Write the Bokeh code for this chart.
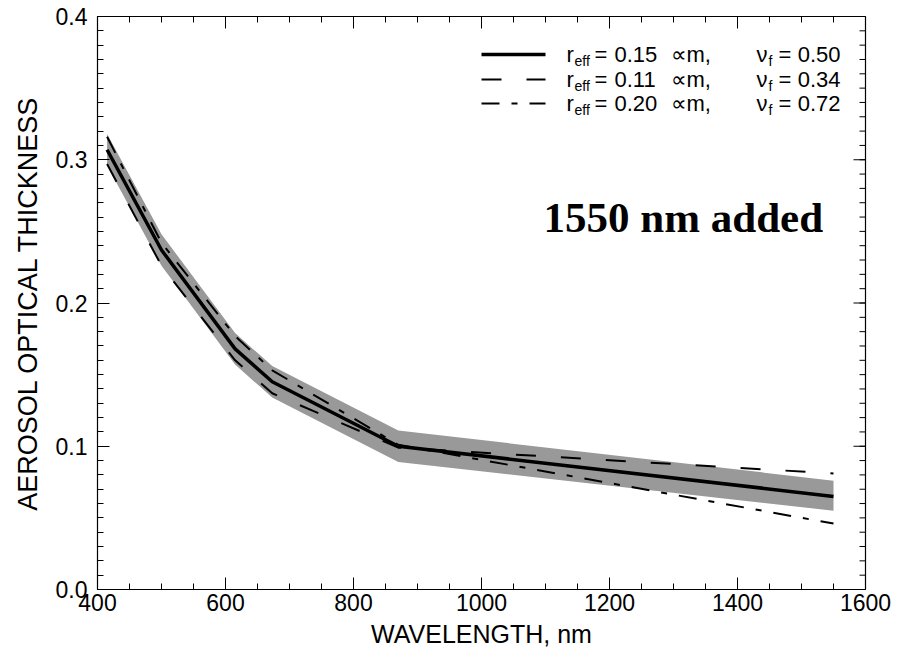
import math
from bokeh.plotting import figure
from bokeh.models import FixedTicker, PrintfTickFormatter, Label, Range1d
from bokeh.embed import file_html
from bokeh.resources import INLINE

# ---- data ----
wavelength = [415, 500, 615, 673, 870, 1550]
aot_r015 = [0.307, 0.237, 0.168, 0.145, 0.100, 0.065]   # solid
aot_r011 = [0.297, 0.226, 0.160, 0.137, 0.099, 0.081]   # long dash
aot_r020 = [0.316, 0.242, 0.177, 0.153, 0.101, 0.046]   # dash-dot
band_low = [0.296, 0.226, 0.157, 0.134, 0.089, 0.055]
band_high = [0.318, 0.248, 0.179, 0.156, 0.111, 0.076]

x_major = [400, 600, 800, 1000, 1200, 1400, 1600]
x_minor = list(range(400, 1601, 50))
y_major = [0.0, 0.1, 0.2, 0.3, 0.4]
y_minor = [round(i * 0.01, 2) for i in range(0, 41)]

leg_reff = ["0.15", "0.11", "0.20"]
leg_nuf = ["0.50", "0.34", "0.72"]
leg_dash = ["solid", "20 25", "18 12 6 12"]
leg_width = [3.5, 2, 2]

FONT = "Liberation Sans"
X0, X1, Y0, Y1 = 400, 1600, 0.0, 0.4

p = figure(width=898, height=651,
           x_range=Range1d(X0, X1), y_range=Range1d(Y0, Y1),
           output_backend="svg", toolbar_location=None,
           min_border_left=97, min_border_right=33, min_border_top=16, min_border_bottom=62)
p.grid.visible = False
p.outline_line_color = "black"
p.outline_line_width = 1.2
p.background_fill_color = "white"

def style_axis(ax, ticks, minor):
    ax.ticker = FixedTicker(ticks=ticks, minor_ticks=minor)
    ax.major_tick_in = 12
    ax.major_tick_out = 0
    ax.minor_tick_in = 6
    ax.minor_tick_out = 0
    ax.axis_line_color = "black"
    ax.major_tick_line_color = "black"
    ax.minor_tick_line_color = "black"
    ax.major_label_text_font = FONT
    ax.major_label_text_font_size = "23px"
    ax.major_label_text_color = "black"
    ax.axis_label_text_font = FONT
    ax.axis_label_text_font_style = "normal"
    ax.axis_label_text_color = "black"

style_axis(p.xaxis[0], x_major, x_minor)
style_axis(p.yaxis[0], y_major, y_minor)
p.xaxis[0].major_label_standoff = 4
p.xaxis[0].axis_label = "WAVELENGTH, nm"
p.xaxis[0].axis_label_text_font_size = "25px"
p.xaxis[0].axis_label_text_line_height = 0.5
p.xaxis[0].axis_label_standoff = 6
p.yaxis[0].major_label_standoff = 10
p.yaxis[0].formatter = PrintfTickFormatter(format="%.1f")
p.yaxis[0].axis_label = "AEROSOL OPTICAL THICKNESS"
p.yaxis[0].axis_label_text_font_size = "27px"
p.yaxis[0].axis_label_standoff = 10

# ticks on the top and right frame edges (inward)
p.ray(x=x_major, y=[Y1] * len(x_major), length=12, angle=-math.pi / 2,
      length_units="screen", line_color="black")
p.ray(x=x_minor, y=[Y1] * len(x_minor), length=6, angle=-math.pi / 2,
      length_units="screen", line_color="black")
p.ray(x=[X1] * len(y_major), y=y_major, length=12, angle=math.pi,
      length_units="screen", line_color="black")
p.ray(x=[X1] * len(y_minor), y=y_minor, length=6, angle=math.pi,
      length_units="screen", line_color="black")

# uncertainty band and curves
p.varea(x=wavelength, y1=band_low, y2=band_high, fill_color="#999999", fill_alpha=1.0)
p.line(wavelength, aot_r011, line_color="black", line_width=2, line_dash="20 25")
p.line(wavelength, aot_r020, line_color="black", line_width=2, line_dash="18 12 6 12")
p.line(wavelength, aot_r015, line_color="black", line_width=3.5)

# helpers: page-pixel -> data coordinates for annotation placement
def dx(px):
    return X0 + (px - 99) * (X1 - X0) / 768.0

def dy(py):
    return (591 - py) * (Y1 - Y0) / 573.0

rows_y = [56, 81, 105]
for i in range(3):
    yy = rows_y[i]
    p.line([dx(483), dx(547)], [dy(yy), dy(yy)], line_color="black",
           line_width=leg_width[i], line_dash=leg_dash[i])
    pieces = [
        ("r", 568, 0, "22px", "left"),
        ("eff", 576, 6, "14px", "left"),
        ("=", 596, 0, "22px", "left"),
        (leg_reff[i], 616, 0, "22px", "left"),
        ("\u221dm,", 672, 0, "22px", "left"),
        ("\u03bd", 758, 0, "22px", "left"),
        ("f", 770, 6, "14px", "left"),
        ("=", 780, 0, "22px", "left"),
        (leg_nuf[i], 842, 0, "22px", "right"),
    ]
    for txt, px, off, fs, al in pieces:
        p.add_layout(Label(x=dx(px), y=dy(yy + off), text=txt, text_font=FONT,
                           text_font_size=fs, text_baseline="middle", text_align=al,
                           text_color="black"))

p.add_layout(Label(x=dx(545), y=dy(219), text="1550 nm added", text_font="Liberation Serif",
                   text_font_style="bold", text_font_size="43px", text_baseline="middle",
                   text_align="left", text_color="black"))

open("out.html", "w").write(file_html(p, INLINE))
